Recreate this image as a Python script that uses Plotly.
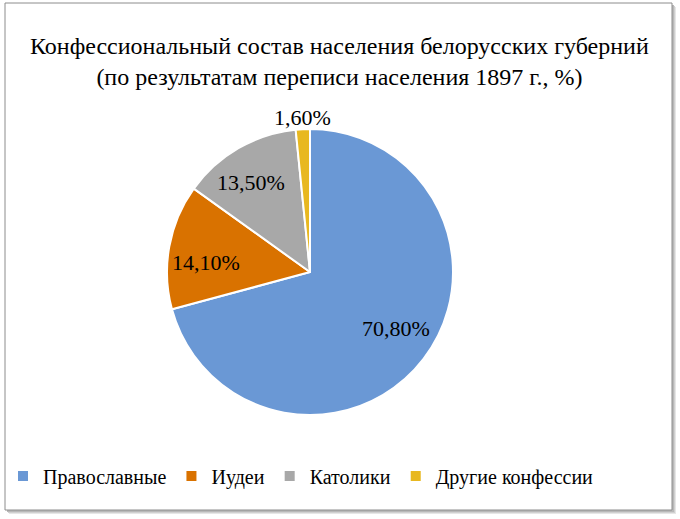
import math
import plotly.graph_objects as go

categories = ["Православные", "Иудеи", "Католики", "Другие конфессии"]
values = [70.8, 14.1, 13.5, 1.6]
labels_text = ["70,80%", "14,10%", "13,50%", "1,60%"]
colors = ["#6A98D5", "#D97200", "#A8A8A8", "#E8B820"]
# label placement (style): radius as fraction of pie radius, angular shift in degrees
label_radius = [0.72, 0.73, 0.75, 1.085]
label_shift = [-3.9, -4.8, -3.4, 0.0]

W, H = 680, 519
cx, cy, r = 310, 272, 143
FONT = "Liberation Serif"

fig = go.Figure()
fig.add_trace(go.Pie(
    labels=categories, values=values,
    textinfo="none",
    sort=False, direction="clockwise", rotation=0,
    marker=dict(colors=colors, line=dict(color="white", width=2)),
    domain=dict(x=[(cx - r) / W, (cx + r) / W], y=[(H - cy - r) / H, (H - cy + r) / H]),
    hoverinfo="label+percent",
))

annotations = []
total = sum(values)
acc = 0.0
for v, t, k, s in zip(values, labels_text, label_radius, label_shift):
    mid = (acc + v / 2) / total * 2 * math.pi + math.radians(s)
    acc += v
    px = cx + k * r * math.sin(mid)
    py = cy - k * r * math.cos(mid)
    annotations.append(dict(text=t, xref="paper", yref="paper", x=px / W, y=1 - py / H,
                            xanchor="center", yanchor="middle", showarrow=False,
                            font=dict(family=FONT, size=22, color="black")))

annotations.append(dict(
    text="Конфессиональный состав населения белорусских губерний<br>(по результатам переписи населения 1897 г., %)",
    xref="paper", yref="paper", x=339 / W, y=1 - 62 / H, xanchor="center", yanchor="middle",
    showarrow=False, font=dict(family=FONT, size=24, color="black")))

shapes = []
for i, c in enumerate(["#e6e6e6", "#d0d0d0", "#b8b8b8"]):
    off = 4 - i
    shapes.append(dict(type="rect", xref="paper", yref="paper",
                       x0=(5 + off) / W, x1=(672 + off) / W,
                       y0=1 - (3 + off) / H, y1=1 - (510 + off) / H,
                       line=dict(width=0), fillcolor=c, layer="below"))
shapes.append(dict(type="rect", xref="paper", yref="paper",
                   x0=5 / W, x1=672 / W, y0=1 - 3 / H, y1=1 - 510 / H,
                   line=dict(color="#8c8c8c", width=1), fillcolor="white", layer="below"))

fig.update_layout(
    width=W, height=H,
    margin=dict(l=0, r=0, t=0, b=0),
    paper_bgcolor="white",
    font=dict(family=FONT),
    shapes=shapes,
    showlegend=True,
    legend=dict(orientation="h", x=3 / W, y=(H - 476) / H, yanchor="middle", xanchor="left",
                font=dict(family=FONT, size=20, color="black"),
                itemwidth=30, bgcolor="rgba(0,0,0,0)"),
    annotations=annotations,
)

fig.write_html("out.html")
